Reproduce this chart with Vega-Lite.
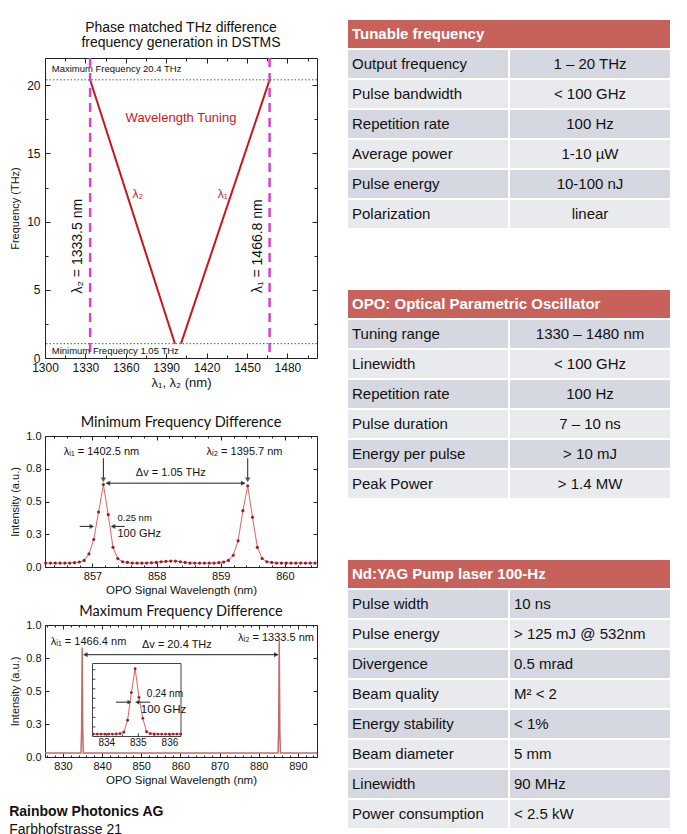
{
"$schema":"https://vega.github.io/schema/vega-lite/v6.json",
"background":"white",
"padding":{"left":9,"top":18,"right":0,"bottom":0},
"config":{"font":"Liberation Sans","view":{"stroke":"#222","strokeWidth":1},
 "axis":{"grid":false,"domain":false,"labelColor":"#111","tickColor":"#222","titleColor":"#111","titleFontWeight":"normal","labelFlush":false,"labelOverlap":false,"labelFontSize":11},
 "title":{"color":"#111"}},
"datasets":{
 "vtune":[{"wl":1333.5,"f":20.4,"b":"l2"},{"wl":1396.5,"f":1.05,"b":"l2"},{"wl":1401,"f":1.05,"b":"l1"},{"wl":1466.8,"f":20.4,"b":"l1"}],
 "minspec":[{"nm":856.27,"I":0.03},{"nm":856.345,"I":0.03},{"nm":856.42,"I":0.03},{"nm":856.495,"I":0.03},{"nm":856.57,"I":0.03},{"nm":856.645,"I":0.03},{"nm":856.72,"I":0.033},{"nm":856.795,"I":0.038},{"nm":856.87,"I":0.05},{"nm":856.945,"I":0.1},{"nm":857.02,"I":0.21},{"nm":857.095,"I":0.42},{"nm":857.17,"I":0.63},{"nm":857.245,"I":0.4},{"nm":857.32,"I":0.15},{"nm":857.395,"I":0.065},{"nm":857.47,"I":0.04},{"nm":857.545,"I":0.035},{"nm":857.62,"I":0.03},{"nm":857.695,"I":0.03},{"nm":857.77,"I":0.03},{"nm":857.845,"I":0.03},{"nm":857.92,"I":0.032},{"nm":857.995,"I":0.035},{"nm":858.07,"I":0.04},{"nm":858.145,"I":0.043},{"nm":858.22,"I":0.045},{"nm":858.295,"I":0.045},{"nm":858.37,"I":0.04},{"nm":858.445,"I":0.035},{"nm":858.52,"I":0.03},{"nm":858.595,"I":0.03},{"nm":858.67,"I":0.03},{"nm":858.745,"I":0.03},{"nm":858.82,"I":0.03},{"nm":858.895,"I":0.03},{"nm":858.97,"I":0.033},{"nm":859.045,"I":0.038},{"nm":859.12,"I":0.05},{"nm":859.195,"I":0.09},{"nm":859.27,"I":0.2},{"nm":859.345,"I":0.43},{"nm":859.42,"I":0.62},{"nm":859.495,"I":0.38},{"nm":859.57,"I":0.15},{"nm":859.645,"I":0.065},{"nm":859.72,"I":0.04},{"nm":859.795,"I":0.035},{"nm":859.87,"I":0.03},{"nm":859.945,"I":0.03},{"nm":860.02,"I":0.03},{"nm":860.095,"I":0.03},{"nm":860.17,"I":0.03},{"nm":860.245,"I":0.03},{"nm":860.32,"I":0.03},{"nm":860.395,"I":0.03},{"nm":860.47,"I":0.03}],
 "maxspec":[{"nm":825.4,"I":0.03},{"nm":834.6,"I":0.03},{"nm":834.75,"I":0.2},{"nm":834.9,"I":0.83},{"nm":835.05,"I":0.2},{"nm":835.2,"I":0.03},{"nm":884.95,"I":0.03},{"nm":885.1,"I":0.2},{"nm":885.25,"I":0.88},{"nm":885.4,"I":0.2},{"nm":885.55,"I":0.03},{"nm":894.9,"I":0.03}],
 "inset":[{"nm":833.58,"I":0.025},{"nm":833.7,"I":0.025},{"nm":833.82,"I":0.025},{"nm":833.94,"I":0.025},{"nm":834.06,"I":0.025},{"nm":834.18,"I":0.025},{"nm":834.3,"I":0.026},{"nm":834.42,"I":0.03},{"nm":834.54,"I":0.045},{"nm":834.66,"I":0.17},{"nm":834.78,"I":0.46},{"nm":834.9,"I":0.71},{"nm":835.02,"I":0.41},{"nm":835.14,"I":0.19},{"nm":835.26,"I":0.05},{"nm":835.38,"I":0.03},{"nm":835.5,"I":0.026},{"nm":835.62,"I":0.025},{"nm":835.74,"I":0.025},{"nm":835.86,"I":0.025},{"nm":835.98,"I":0.025},{"nm":836.1,"I":0.025},{"nm":836.22,"I":0.025},{"nm":836.34,"I":0.025}],
 "rows":[
  {"table":1,"slot":2,"r":1,"label":"Output frequency","value":"1 – 20 THz"},
  {"table":1,"slot":3,"r":2,"label":"Pulse bandwidth","value":"< 100 GHz"},
  {"table":1,"slot":4,"r":3,"label":"Repetition rate","value":"100 Hz"},
  {"table":1,"slot":5,"r":4,"label":"Average power","value":"1-10 µW"},
  {"table":1,"slot":6,"r":5,"label":"Pulse energy","value":"10-100 nJ"},
  {"table":1,"slot":7,"r":6,"label":"Polarization","value":"linear"},
  {"table":2,"slot":11,"r":1,"label":"Tuning range","value":"1330 – 1480 nm"},
  {"table":2,"slot":12,"r":2,"label":"Linewidth","value":"< 100 GHz"},
  {"table":2,"slot":13,"r":3,"label":"Repetition rate","value":"100 Hz"},
  {"table":2,"slot":14,"r":4,"label":"Pulse duration","value":"7 – 10 ns"},
  {"table":2,"slot":15,"r":5,"label":"Energy per pulse","value":"> 10 mJ"},
  {"table":2,"slot":16,"r":6,"label":"Peak Power","value":"> 1.4 MW"},
  {"table":3,"slot":20,"r":1,"label":"Pulse width","value":"10 ns"},
  {"table":3,"slot":21,"r":2,"label":"Pulse energy","value":"> 125 mJ @ 532nm"},
  {"table":3,"slot":22,"r":3,"label":"Divergence","value":"0.5 mrad"},
  {"table":3,"slot":23,"r":4,"label":"Beam quality","value":"M² < 2"},
  {"table":3,"slot":24,"r":5,"label":"Energy stability","value":" < 1%"},
  {"table":3,"slot":25,"r":6,"label":"Beam diameter","value":"5 mm"},
  {"table":3,"slot":26,"r":7,"label":"Linewidth","value":"90 MHz"},
  {"table":3,"slot":27,"r":8,"label":"Power consumption","value":"< 2.5 kW"}],
 "heads":[{"slot":1,"label":"Tunable frequency"},{"slot":10,"label":"OPO: Optical Parametric Oscillator"},{"slot":19,"label":"Nd:YAG Pump laser 100-Hz"}]
},
"hconcat":[
 {"vconcat":[
  {"width":272,"height":300,
   "title":{"text":["Phase matched THz difference","frequency generation in DSTMS"],"fontSize":14,"fontWeight":"normal","lineHeight":15,"offset":7},
   "layer":[
    {"data":{"name":"vtune"},"mark":{"type":"line","color":"#c8161d","strokeWidth":2},
     "encoding":{
      "x":{"field":"wl","type":"quantitative","scale":{"domain":[1300,1502],"nice":false,"zero":false},"axis":{"orient":"bottom","values":[1300,1330,1360,1390,1420,1450,1480],"format":"d","tickSize":-5,"labelPadding":9,"labelFontSize":12,"title":"λ₁, λ₂ (nm)","titleFontSize":13,"titlePadding":3}},
      "y":{"field":"f","type":"quantitative","scale":{"domain":[0,22],"nice":false},"axis":{"orient":"left","values":[0,5,10,15,20],"tickSize":-5,"labelPadding":10,"labelFontSize":12,"title":"Frequency (THz)","titleFontSize":11,"titlePadding":6}},
      "detail":{"field":"b"}}},
    {"data":{"values":[{"wl":1333.5},{"wl":1466.8}]},"mark":{"type":"rule","color":"#e03fcf","strokeWidth":2.5,"strokeDash":[9,6]},
     "encoding":{"x":{"field":"wl","type":"quantitative","axis":null}}},
    {"data":{"values":[{"f":20.4},{"f":1.05}]},"mark":{"type":"rule","color":"#1f7a35","strokeWidth":1,"strokeDash":[1.5,2]},
     "encoding":{"y":{"field":"f","type":"quantitative","axis":null}}},
    {"data":{"values":[{"wl":1305,"f":21.2,"t":"Maximum Frequency 20.4 THz"},{"wl":1305,"f":0.5,"t":"Minimum Frequency 1.05 THz"}]},
     "mark":{"type":"text","align":"left","baseline":"middle","fontSize":9.5,"color":"#111"},
     "encoding":{"x":{"field":"wl","type":"quantitative","axis":{"orient":"top","values":[1300,1330,1360,1390,1420,1450,1480],"tickSize":-5,"labels":false,"title":null}},
      "y":{"field":"f","type":"quantitative","axis":{"orient":"right","values":[0,5,10,15,20],"tickSize":-5,"labels":false,"title":null}},"text":{"field":"t"}}},
    {"data":{"values":[{"wl":1401,"f":17.6,"t":"Wavelength Tuning"}]},
     "mark":{"type":"text","align":"center","baseline":"middle","fontSize":13,"color":"#d0161d"},
     "encoding":{"x":{"field":"wl","type":"quantitative","axis":{"orient":"bottom","values":[1315,1345,1375,1405,1435,1465,1495],"tickSize":-3,"labels":false,"title":null}},
      "y":{"field":"f","type":"quantitative","axis":{"orient":"left","values":[2.5,7.5,12.5,17.5],"tickSize":-3,"labels":false,"title":null}},"text":{"field":"t"}}},
    {"data":{"values":[{"wl":1369,"f":12,"t":"λ₂"},{"wl":1432,"f":12,"t":"λ₁"}]},
     "mark":{"type":"text","align":"center","baseline":"middle","fontSize":12,"color":"#d0161d"},
     "encoding":{"x":{"field":"wl","type":"quantitative","axis":{"orient":"top","values":[1315,1345,1375,1405,1435,1465,1495],"tickSize":-3,"labels":false,"title":null}},
      "y":{"field":"f","type":"quantitative","axis":{"orient":"right","values":[2.5,7.5,12.5,17.5],"tickSize":-3,"labels":false,"title":null}},"text":{"field":"t"}}},
    {"data":{"values":[{"wl":1324.5,"f":8.2,"t":"λ₂ = 1333.5 nm"},{"wl":1458.5,"f":8.2,"t":"λ₁ = 1466.8 nm"}]},
     "mark":{"type":"text","align":"center","baseline":"middle","fontSize":14,"angle":270,"color":"#111"},
     "encoding":{"x":{"field":"wl","type":"quantitative","axis":null},"y":{"field":"f","type":"quantitative","axis":null},"text":{"field":"t"}}}
   ],
   "resolve":{"axis":{"x":"independent","y":"independent"}}},
  {"vconcat":[
   {"width":272,"height":131,
    "title":{"text":"Minimum Frequency Difference","font":"Lato","fontSize":14.5,"fontWeight":"normal","offset":0},
    "layer":[
     {"data":{"name":"minspec"},"mark":{"type":"line","color":"#e0625c","strokeWidth":1},
      "encoding":{
       "x":{"field":"nm","type":"quantitative","scale":{"domain":[856.26,860.5],"nice":false,"zero":false},"axis":{"orient":"bottom","values":[857,858,859,860],"format":"d","tickSize":-4,"labelPadding":7,"title":"OPO Signal Wavelength (nm)","titleFontSize":11.5,"titlePadding":3}},
       "y":{"field":"I","type":"quantitative","scale":{"domain":[0,1],"nice":false},"axis":{"orient":"left","values":[0,0.25,0.5,0.75,1],"format":".1f","tickSize":-4,"labelPadding":8,"title":"Intensity (a.u.)","titleFontSize":11,"titlePadding":5}}}},
     {"data":{"name":"minspec"},"mark":{"type":"point","filled":true,"color":"#9e1a2a","size":10,"opacity":1},
      "encoding":{"x":{"field":"nm","type":"quantitative","axis":null},"y":{"field":"I","type":"quantitative","axis":null}}},
     {"data":{"values":[{"nm":857.14,"I":0.88,"t":"λᵢ₁ = 1402.5 nm"},{"nm":859.37,"I":0.88,"t":"λᵢ₂ = 1395.7 nm"},{"nm":858.22,"I":0.72,"t":"Δv = 1.05 THz"}]},
      "mark":{"type":"text","align":"center","baseline":"middle","fontSize":11,"color":"#111"},
      "encoding":{"x":{"field":"nm","type":"quantitative","axis":{"orient":"top","values":[857,858,859,860],"tickSize":-4,"labels":false,"title":null}},
       "y":{"field":"I","type":"quantitative","axis":{"orient":"right","values":[0,0.25,0.5,0.75,1],"tickSize":-4,"labels":false,"title":null}},"text":{"field":"t"}}},
     {"data":{"values":[{"nm":857.39,"I":0.374,"t":"0.25 nm"}]},
      "mark":{"type":"text","align":"left","baseline":"middle","fontSize":9.5,"color":"#111"},
      "encoding":{"x":{"field":"nm","type":"quantitative","axis":{"orient":"bottom","values":[856.4,856.6,856.8,857.2,857.4,857.6,857.8,858.2,858.4,858.6,858.8,859.2,859.4,859.6,859.8,860.2,860.4],"tickSize":-2,"labels":false,"title":null}},
       "y":{"field":"I","type":"quantitative","axis":null},"text":{"field":"t"}}},
     {"data":{"values":[{"nm":857.39,"I":0.254,"t":"100 GHz"}]},
      "mark":{"type":"text","align":"left","baseline":"middle","fontSize":11,"color":"#111"},
      "encoding":{"x":{"field":"nm","type":"quantitative","axis":{"orient":"top","values":[856.4,856.6,856.8,857.2,857.4,857.6,857.8,858.2,858.4,858.6,858.8,859.2,859.4,859.6,859.8,860.2,860.4],"tickSize":-2,"labels":false,"title":null}},
       "y":{"field":"I","type":"quantitative","axis":null},"text":{"field":"t"}}},
     {"data":{"values":[{"a":857.17,"b":857.17,"p":0.83,"q":0.68},{"a":859.42,"b":859.42,"p":0.83,"q":0.68},{"a":857.22,"b":859.37,"p":0.64,"q":0.64},{"a":856.8,"b":857.0,"p":0.31,"q":0.31},{"a":857.5,"b":857.31,"p":0.31,"q":0.31}]},
      "mark":{"type":"rule","color":"#222","strokeWidth":1},
      "encoding":{"x":{"field":"a","type":"quantitative","axis":null},"x2":{"field":"b"},"y":{"field":"p","type":"quantitative","axis":null},"y2":{"field":"q"}}},
     {"data":{"values":[{"nm":857.17,"I":0.665},{"nm":859.42,"I":0.665}]},"mark":{"type":"point","shape":"triangle-down","filled":true,"color":"#111","size":28},
      "encoding":{"x":{"field":"nm","type":"quantitative","axis":null},"y":{"field":"I","type":"quantitative","axis":null}}},
     {"data":{"values":[{"nm":859.35,"I":0.64},{"nm":856.99,"I":0.31}]},"mark":{"type":"point","shape":"triangle-right","filled":true,"color":"#111","size":28},
      "encoding":{"x":{"field":"nm","type":"quantitative","axis":null},"y":{"field":"I","type":"quantitative","axis":null}}},
     {"data":{"values":[{"nm":857.24,"I":0.64},{"nm":857.32,"I":0.31}]},"mark":{"type":"point","shape":"triangle-left","filled":true,"color":"#111","size":28},
      "encoding":{"x":{"field":"nm","type":"quantitative","axis":null},"y":{"field":"I","type":"quantitative","axis":null}}}
    ],
    "resolve":{"axis":{"x":"independent","y":"independent"}}},
   {"width":272,"height":132,
    "title":{"text":"Maximum Frequency Difference","font":"Lato","fontSize":14.5,"fontWeight":"normal","offset":0},
    "layer":[
     {"layer":[
      {"data":{"name":"maxspec"},"mark":{"type":"line","color":"#c46a6a","strokeWidth":1.5},
       "encoding":{
        "x":{"field":"nm","type":"quantitative","scale":{"domain":[825.4,894.9],"nice":false,"zero":false},"axis":{"orient":"bottom","values":[830,840,850,860,870,880,890],"format":"d","tickSize":-4,"labelPadding":7,"title":"OPO Signal Wavelength (nm)","titleFontSize":11.5,"titlePadding":3}},
        "y":{"field":"I","type":"quantitative","scale":{"domain":[0,1],"nice":false},"axis":{"orient":"left","values":[0,0.25,0.5,0.75,1],"format":".1f","tickSize":-4,"labelPadding":8,"title":"Intensity (a.u.)","titleFontSize":11,"titlePadding":5}}}},
      {"data":{"values":[{"nm":826.9,"I":0.87,"t":"λᵢ₁ = 1466.4 nm"},{"nm":874.7,"I":0.9,"t":"λᵢ₂ = 1333.5 nm"}]},
       "mark":{"type":"text","align":"left","baseline":"middle","fontSize":11,"color":"#111"},
       "encoding":{"x":{"field":"nm","type":"quantitative","axis":{"orient":"top","values":[830,840,850,860,870,880,890],"tickSize":-4,"labels":false,"title":null}},
        "y":{"field":"I","type":"quantitative","axis":{"orient":"right","values":[0,0.25,0.5,0.75,1],"tickSize":-4,"labels":false,"title":null}},"text":{"field":"t"}}},
      {"data":{"values":[{"nm":859.1,"I":0.85,"t":"Δv = 20.4 THz"}]},
       "mark":{"type":"text","align":"center","baseline":"middle","fontSize":11,"color":"#111"},
       "encoding":{"x":{"field":"nm","type":"quantitative","axis":{"orient":"bottom","values":[826,828,832,834,836,838,842,844,846,848,852,854,856,858,862,864,866,868,872,874,876,878,882,884,886,888,892,894],"tickSize":-2,"labels":false,"title":null}},
        "y":{"field":"I","type":"quantitative","axis":null},"text":{"field":"t"}}},
      {"data":{"values":[{"a":835.5,"b":884.8,"p":0.775}]},"mark":{"type":"rule","color":"#222","strokeWidth":1},
       "encoding":{"x":{"field":"a","type":"quantitative","axis":{"orient":"top","values":[826,828,832,834,836,838,842,844,846,848,852,854,856,858,862,864,866,868,872,874,876,878,882,884,886,888,892,894],"tickSize":-2,"labels":false,"title":null}},"x2":{"field":"b"},"y":{"field":"p","type":"quantitative","axis":null}}},
      {"data":{"values":[{"nm":835.7,"I":0.775}]},"mark":{"type":"point","shape":"triangle-left","filled":true,"color":"#111","size":28},
       "encoding":{"x":{"field":"nm","type":"quantitative","axis":null},"y":{"field":"I","type":"quantitative","axis":null}}},
      {"data":{"values":[{"nm":884.5,"I":0.775}]},"mark":{"type":"point","shape":"triangle-right","filled":true,"color":"#111","size":28},
       "encoding":{"x":{"field":"nm","type":"quantitative","axis":null},"y":{"field":"I","type":"quantitative","axis":null}}}
     ],
     "resolve":{"axis":{"x":"independent","y":"independent"}}},
     {"layer":[
      {"data":{"values":[{"a":833.55,"b":836.35,"lo":0,"hi":0.765}]},"mark":{"type":"rect","fill":"white","stroke":"#444","strokeWidth":1},
       "encoding":{
        "x":{"field":"a","type":"quantitative","scale":{"domain":[833.55,836.35],"range":[47.5,136],"nice":false,"zero":false},"axis":null},
        "x2":{"field":"b"},
        "y":{"field":"lo","type":"quantitative","scale":{"domain":[0,0.765],"range":[111.5,38.5],"nice":false,"zero":false},"axis":null},
        "y2":{"field":"hi"}}},
      {"data":{"values":[{"a":834,"b":834,"p":0,"q":0.035},{"a":834.5,"b":834.5,"p":0,"q":0.02},{"a":835,"b":835,"p":0,"q":0.035},{"a":835.5,"b":835.5,"p":0,"q":0.02},{"a":836,"b":836,"p":0,"q":0.035},{"a":833.55,"b":833.64,"p":0.1,"q":0.1},{"a":833.55,"b":833.64,"p":0.2,"q":0.2},{"a":833.55,"b":833.64,"p":0.3,"q":0.3},{"a":833.55,"b":833.64,"p":0.4,"q":0.4},{"a":833.55,"b":833.64,"p":0.5,"q":0.5},{"a":833.55,"b":833.64,"p":0.6,"q":0.6},{"a":833.55,"b":833.64,"p":0.7,"q":0.7}]},
       "mark":{"type":"rule","color":"#444","strokeWidth":1},
       "encoding":{"x":{"field":"a","type":"quantitative","axis":null},"x2":{"field":"b"},"y":{"field":"p","type":"quantitative","axis":null},"y2":{"field":"q"}}},
      {"data":{"values":[{"nm":834,"t":"834"},{"nm":835,"t":"835"},{"nm":836,"t":"836"}]},
       "mark":{"type":"text","align":"center","baseline":"middle","fontSize":10,"color":"#111"},
       "encoding":{"x":{"field":"nm","type":"quantitative","axis":null},"y":{"datum":-0.065,"type":"quantitative","axis":null},"text":{"field":"t"}}},
      {"data":{"name":"inset"},"mark":{"type":"line","color":"#e0625c","strokeWidth":1},
       "encoding":{"x":{"field":"nm","type":"quantitative","axis":null},"y":{"field":"I","type":"quantitative","axis":null}}},
      {"data":{"name":"inset"},"mark":{"type":"point","filled":true,"color":"#9e1a2a","size":8,"opacity":1},
       "encoding":{"x":{"field":"nm","type":"quantitative","axis":null},"y":{"field":"I","type":"quantitative","axis":null}}},
      {"data":{"values":[{"nm":835.27,"I":0.45,"t":"0.24 nm"}]},"mark":{"type":"text","align":"left","baseline":"middle","fontSize":10,"color":"#111"},
       "encoding":{"x":{"field":"nm","type":"quantitative","axis":null},"y":{"field":"I","type":"quantitative","axis":null},"text":{"field":"t"}}},
      {"data":{"values":[{"nm":835.08,"I":0.28,"t":"100 GHz"}]},"mark":{"type":"text","align":"left","baseline":"middle","fontSize":11.5,"color":"#111"},
       "encoding":{"x":{"field":"nm","type":"quantitative","axis":null},"y":{"field":"I","type":"quantitative","axis":null},"text":{"field":"t"}}},
      {"data":{"values":[{"a":834.29,"b":834.72,"p":0.36},{"a":835.37,"b":834.96,"p":0.36}]},"mark":{"type":"rule","color":"#222","strokeWidth":1},
       "encoding":{"x":{"field":"a","type":"quantitative","axis":null},"x2":{"field":"b"},"y":{"field":"p","type":"quantitative","axis":null}}},
      {"data":{"values":[{"nm":834.72,"I":0.36}]},"mark":{"type":"point","shape":"triangle-right","filled":true,"color":"#111","size":22},
       "encoding":{"x":{"field":"nm","type":"quantitative","axis":null},"y":{"field":"I","type":"quantitative","axis":null}}},
      {"data":{"values":[{"nm":834.96,"I":0.36}]},"mark":{"type":"point","shape":"triangle-left","filled":true,"color":"#111","size":22},
       "encoding":{"x":{"field":"nm","type":"quantitative","axis":null},"y":{"field":"I","type":"quantitative","axis":null}}}
     ]}
    ],
    "resolve":{"scale":{"x":"independent","y":"independent"},"axis":{"x":"independent","y":"independent"}}}
  ],
  "spacing":7,
  "title":{"text":"Rainbow Photonics AG","subtitle":"Farbhofstrasse 21","orient":"bottom","anchor":"start","font":"Liberation Sans","fontSize":14,"fontWeight":"bold","subtitleFont":"Liberation Sans","subtitleFontSize":14,"subtitleColor":"#111","subtitlePadding":4,"offset":19}}
 ],
 "spacing":24},
 {"width":324,"height":771,"view":{"stroke":null},
  "layer":[
   {"data":{"name":"heads"},"mark":{"type":"rect","fill":"#c8615a","stroke":"white","strokeWidth":2},
    "encoding":{"y":{"field":"slot","type":"ordinal","scale":{"domain":[1,2,3,4,5,6,7,8,9,10,11,12,13,14,15,16,17,18,19,20,21,22,23,24,25,26,27],"range":[-39,771],"paddingInner":0,"paddingOuter":0},"axis":null}}},
   {"data":{"name":"rows"},"transform":[{"fold":["label","value"],"as":["col","txt"]}],
    "mark":{"type":"rect","stroke":"white","strokeWidth":2},
    "encoding":{
     "x":{"field":"col","type":"nominal","scale":{"domain":["label","value"],"paddingInner":0,"paddingOuter":0},"axis":null},
     "y":{"field":"slot","type":"ordinal","axis":null},
     "color":{"field":"r","type":"ordinal","scale":{"domain":[1,2,3,4,5,6,7,8],"range":["#d5d8e1","#e9eaee","#d5d8e1","#e9eaee","#d5d8e1","#e9eaee","#d5d8e1","#e9eaee"]},"legend":null}}},
   {"data":{"name":"heads"},"transform":[{"fold":["label"],"as":["col","txt"]}],
    "mark":{"type":"text","align":"left","baseline":"middle","dx":5,"fontSize":15,"fontWeight":"bold","color":"white"},
    "encoding":{"x":{"field":"col","type":"nominal","bandPosition":0,"axis":null},"y":{"field":"slot","type":"ordinal","axis":null},"text":{"field":"txt"}}},
   {"data":{"name":"rows"},"transform":[{"fold":["label"],"as":["col","txt"]}],
    "mark":{"type":"text","align":"left","baseline":"middle","dx":5,"fontSize":15,"color":"#111"},
    "encoding":{"x":{"field":"col","type":"nominal","bandPosition":0,"axis":null},"y":{"field":"slot","type":"ordinal","axis":null},"text":{"field":"txt"}}},
   {"data":{"name":"rows"},"transform":[{"filter":"datum.table != 3"},{"fold":["value"],"as":["col","txt"]}],
    "mark":{"type":"text","align":"center","baseline":"middle","fontSize":15,"color":"#111"},
    "encoding":{"x":{"field":"col","type":"nominal","axis":null},"y":{"field":"slot","type":"ordinal","axis":null},"text":{"field":"txt"}}},
   {"data":{"name":"rows"},"transform":[{"filter":"datum.table == 3"},{"fold":["value"],"as":["col","txt"]}],
    "mark":{"type":"text","align":"left","baseline":"middle","dx":5,"fontSize":15,"color":"#111"},
    "encoding":{"x":{"field":"col","type":"nominal","bandPosition":0,"axis":null},"y":{"field":"slot","type":"ordinal","axis":null},"text":{"field":"txt"}}}
  ]}
],
"spacing":25
}
